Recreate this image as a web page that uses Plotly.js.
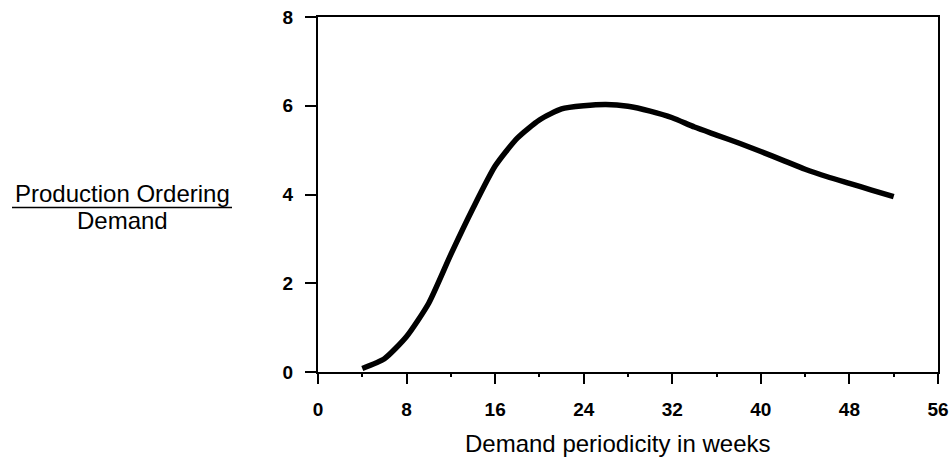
<!DOCTYPE html>
<html>
<head>
<meta charset="utf-8">
<script src="https://cdn.plot.ly/plotly-3.0.1.min.js"></script>
<style>html,body{margin:0;padding:0;background:#fff;}#chart{width:951px;height:459px;}</style>
</head>
<body>
<div id="chart"></div>
<script>
var weeks = [4, 6, 8, 10, 12, 14, 16, 18, 20, 22, 24, 26, 28, 30, 32, 34, 36, 38, 40, 42, 44, 46, 48, 50, 52];
var ratio = [0.08, 0.3, 0.8, 1.55, 2.65, 3.69, 4.64, 5.27, 5.68, 5.93, 6.0, 6.03, 5.99, 5.88, 5.73, 5.52, 5.34, 5.16, 4.97, 4.77, 4.57, 4.40, 4.25, 4.10, 3.95];
var xTickVals = [0, 8, 16, 24, 32, 40, 48, 56];
var yTickVals = [0, 2, 4, 6, 8];
var xTitle = "Demand periodicity in weeks";
var yTitleTop = "Production Ordering";
var yTitleBottom = "Demand";

var W = 951, H = 459, L = 318, R = 13, T = 17, B = 87;
var pw = W - L - R, ph = H - T - B;
function px(x) { return (x - L) / pw; }
function py(y) { return (H - B - y) / ph; }

var trace = {
  x: weeks, y: ratio, type: 'scatter', mode: 'lines',
  line: {color: '#000', width: 5.5, shape: 'spline', smoothing: 0.6},
  hoverinfo: 'skip'
};

var tickFont = {family: 'Liberation Sans, Arial, sans-serif', size: 19, color: '#000', weight: 'bold'};
var titleFont = {family: 'Liberation Sans, Arial, sans-serif', size: 24, color: '#000'};

var layout = {
  width: W, height: H,
  margin: {l: L, r: R, t: T, b: B, pad: 0},
  paper_bgcolor: '#fff', plot_bgcolor: '#fff',
  showlegend: false,
  xaxis: {
    range: [0, 56], tickvals: xTickVals, ticktext: xTickVals.map(String),
    ticks: 'outside', ticklen: 10, tickwidth: 2, tickcolor: '#000',
    showline: true, linecolor: '#000', linewidth: 2, mirror: true,
    showgrid: false, zeroline: false, tickfont: tickFont,
    ticklabelstandoff: 9,
    minor: {dtick: 4, tick0: 0, ticks: 'outside', ticklen: 3, tickwidth: 2, tickcolor: '#000', showgrid: false},
    automargin: false
  },
  yaxis: {
    range: [0, 8], tickvals: yTickVals, ticktext: yTickVals.map(String),
    ticks: 'outside', ticklen: 11, tickwidth: 2, tickcolor: '#000',
    showline: true, linecolor: '#000', linewidth: 2, mirror: true,
    showgrid: false, zeroline: false, tickfont: tickFont,
    ticklabelstandoff: 8,
    automargin: false
  },
  annotations: [
    {xref: 'paper', yref: 'paper', x: px(617), y: py(443), xanchor: 'center', yanchor: 'middle',
     text: xTitle, showarrow: false, font: titleFont},
    {xref: 'paper', yref: 'paper', x: px(122), y: py(193), xanchor: 'center', yanchor: 'middle',
     text: yTitleTop, showarrow: false, font: titleFont},
    {xref: 'paper', yref: 'paper', x: px(122), y: py(220), xanchor: 'center', yanchor: 'middle',
     text: yTitleBottom, showarrow: false, font: titleFont}
  ],
  shapes: [
    {type: 'line', xref: 'paper', yref: 'paper', x0: px(12), x1: px(232), y0: py(207.5), y1: py(207.5),
     line: {color: '#000', width: 1.5}}
  ]
};

Plotly.newPlot('chart', [trace], layout, {displayModeBar: false, staticPlot: true});
</script>
</body>
</html>
